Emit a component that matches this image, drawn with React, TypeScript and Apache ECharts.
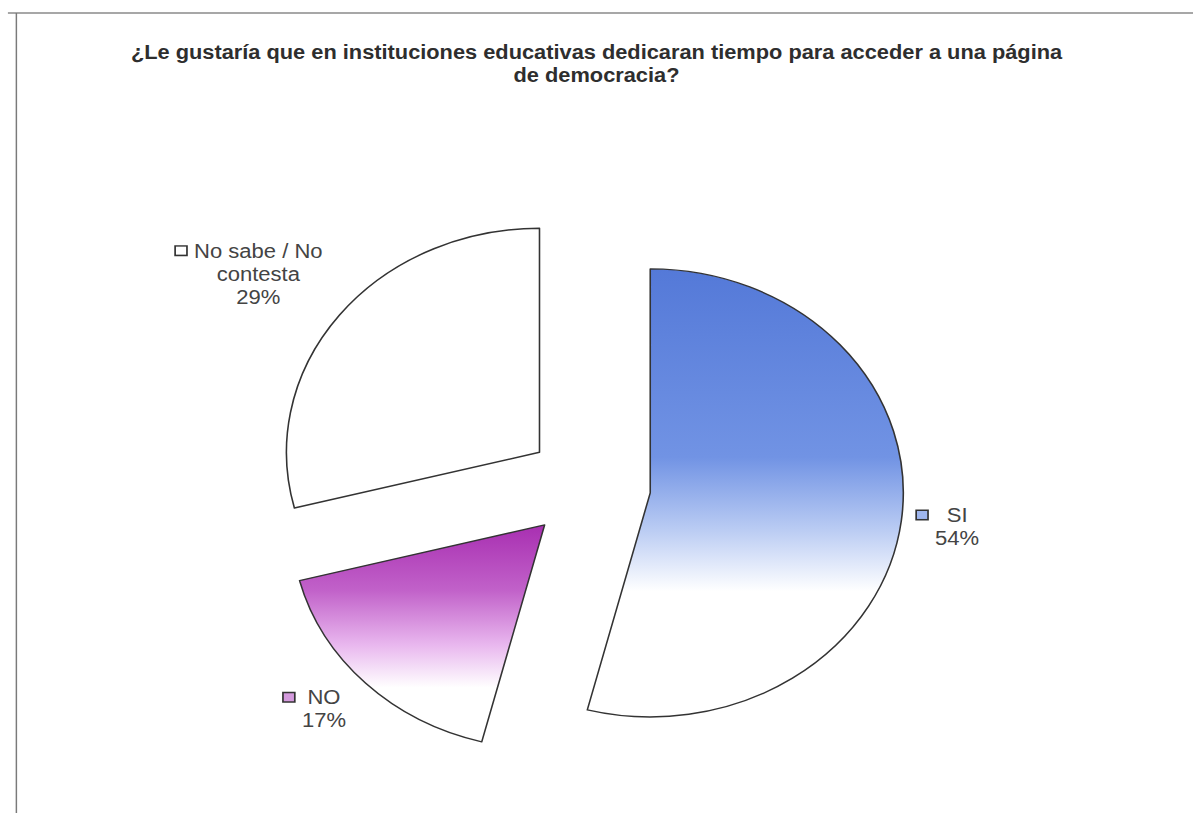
import React, { useEffect, useRef } from "react";
import * as echarts from "echarts";

const TITLE = "¿Le gustaría que en instituciones educativas dedicaran tiempo para acceder a una página\nde democracia?";
const categories = ["SI", "NO", "No sabe / No contesta"];
const labelNames = ["SI", "NO", "No sabe / No\ncontesta"];
const values = [54, 17, 29];
const percentLabels = ["54%", "17%", "29%"];

// label nudges (style only)
const labelDx = [-7, 0, 3.5];
const labelDy = [4, 17, -34];

const PAGE_W = 1193;
const PAGE_H = 813;
const INNER_W = 1056;
const SCALE_X = PAGE_W / INNER_W;

const FONT = "'Liberation Sans', Arial, sans-serif";

const sliceFills = [
  new echarts.graphic.LinearGradient(0, 0, 0, 1, [
    { offset: 0, color: "#5479d8" },
    { offset: 0.42, color: "#7193e4" },
    { offset: 0.58, color: "#b9cbf3" },
    { offset: 0.72, color: "#ffffff" },
    { offset: 1, color: "#ffffff" },
  ]),
  new echarts.graphic.LinearGradient(0, 0, 0, 1, [
    { offset: 0, color: "#a82fb1" },
    { offset: 0.3, color: "#c161c9" },
    { offset: 0.55, color: "#e8b6ee" },
    { offset: 0.75, color: "#ffffff" },
    { offset: 1, color: "#ffffff" },
  ]),
  "#ffffff",
];
const boxFills = ["#9fb6ee", "#d49add", "#ffffff"];

export default function App() {
  const ref = useRef<HTMLDivElement>(null);
  useEffect(() => {
    if (!ref.current) return;
    const chart = echarts.init(ref.current, null, { renderer: "svg" });
    const textStyle = { fontSize: 19.5, fontFamily: FONT, color: "#444", align: "center" as const, lineHeight: 23 };
    const boxStyle = (c: string) => ({
      width: 9,
      height: 8,
      backgroundColor: c,
      borderColor: "#333",
      borderWidth: 1.5,
      align: "left" as const,
    });
    chart.setOption({
      animation: false,
      backgroundColor: "#ffffff",
      title: {
        text: TITLE,
        left: "center",
        top: 35,
        textStyle: { fontSize: 19.3, fontWeight: "bold", fontFamily: FONT, color: "#2e2e2e", lineHeight: 23 },
      },
      graphic: [
        { type: "line", shape: { x1: 7, y1: 13, x2: INNER_W, y2: 13 }, style: { stroke: "#8a8a8a", lineWidth: 1.5 } },
        { type: "line", shape: { x1: 14.5, y1: 13, x2: 14.5, y2: PAGE_H }, style: { stroke: "#7a7a7a", lineWidth: 1.3 } },
      ],
      series: [
        {
          type: "pie",
          center: [521, 486],
          radius: 224,
          startAngle: 90,
          clockwise: true,
          selectedMode: "multiple",
          selectedOffset: 55,
          emphasis: { disabled: true },
          itemStyle: { borderColor: "#333", borderWidth: 1.4 },
          labelLine: { show: false, length: 12, length2: 4 },
          labelLayout: (p: any) => ({ dx: labelDx[p.dataIndex], dy: labelDy[p.dataIndex] }),
          label: {
            show: true,
            position: "outside",
            formatter: (p: any) => {
              const i = p.dataIndex;
              const lines = labelNames[i].split("\n");
              let s = `{box${i}|}{g|}{t|${lines[0]}}`;
              for (let k = 1; k < lines.length; k++) s += `\n{pad|}{t|${lines[k]}}`;
              s += `\n{pad|}{t|${percentLabels[i]}}`;
              return s;
            },
            rich: {
              t: textStyle,
              g: { width: 7, align: "left" },
              pad: { width: 16, align: "left" },
              box0: boxStyle(boxFills[0]),
              box1: boxStyle(boxFills[1]),
              box2: boxStyle(boxFills[2]),
            },
          },
          data: categories.map((name, i) => ({
            name,
            value: values[i],
            selected: true,
            itemStyle: { color: sliceFills[i] },
            select: { itemStyle: { color: sliceFills[i], borderColor: "#333", borderWidth: 1.4 } },
          })),
        },
      ],
    });
    return () => chart.dispose();
  }, []);
  return (
    <div style={{ position: "fixed", left: 0, top: 0, width: PAGE_W, height: PAGE_H, overflow: "hidden", background: "#fff" }}>
      <div
        ref={ref}
        style={{ width: INNER_W, height: PAGE_H, transform: `scaleX(${SCALE_X})`, transformOrigin: "0 0" }}
      />
    </div>
  );
}
